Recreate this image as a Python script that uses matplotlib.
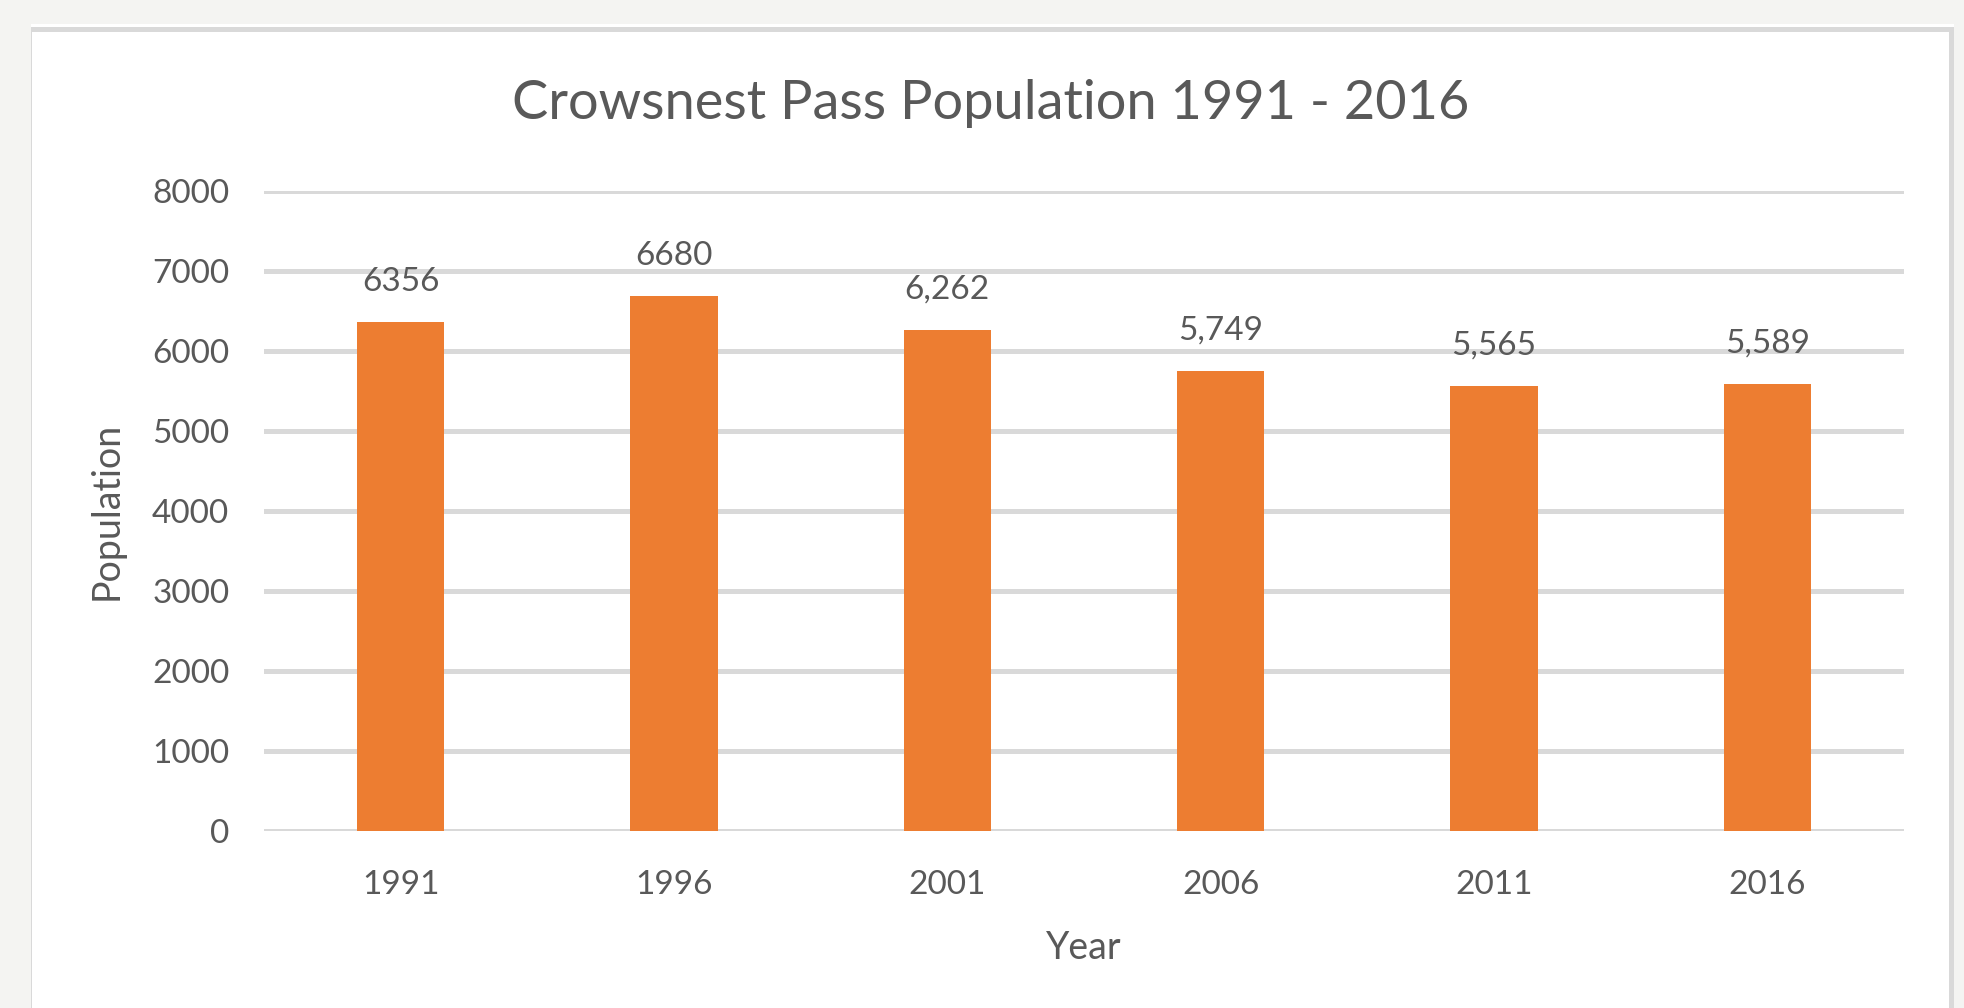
import matplotlib.pyplot as plt
from matplotlib.patches import Rectangle

years = ["1991", "1996", "2001", "2006", "2011", "2016"]
population = [6356, 6680, 6262, 5749, 5565, 5589]
value_labels = ["6356", "6680", "6,262", "5,749", "5,565", "5,589"]
y_ticks = [0, 1000, 2000, 3000, 4000, 5000, 6000, 7000, 8000]

BAR_COLOR = "#ED7D31"
TEXT_COLOR = "#595959"
GRID_COLOR = "#D9D9D9"

plt.rcParams["font.family"] = ["Lato", "DejaVu Sans"]

fig = plt.figure(figsize=(19.65, 10.08), dpi=100)
fig.patch.set_facecolor("#F4F4F2")

# white chart panel with a grey frame on top / right
W, H = 1965, 1008
fig.patches.append(Rectangle((31 / W, 0), (1954 - 31) / W, (1008 - 24) / H,
                             transform=fig.transFigure, facecolor="white",
                             edgecolor="none", zorder=-3))
fig.patches.append(Rectangle((31 / W, 0), (1954 - 31) / W, (1008 - 27) / H,
                             transform=fig.transFigure, facecolor=GRID_COLOR,
                             edgecolor="none", zorder=-2))
fig.patches.append(Rectangle((32 / W, 0), (1949 - 32) / W, (1008 - 32) / H,
                             transform=fig.transFigure, facecolor="white",
                             edgecolor="none", zorder=-1))

ax = fig.add_axes([264 / W, 177 / H, (1904 - 264) / W, (831 - 190.7) / H])
ax.set_facecolor("none")

x = list(range(len(years)))
ax.bar(x, population, width=0.32, color=BAR_COLOR, zorder=3)

for xi, val, lab in zip(x, population, value_labels):
    ax.annotate(lab, (xi, val), xytext=(0, 18), textcoords="offset points",
                ha="center", va="bottom", fontsize=24, color=TEXT_COLOR)

ax.set_xlim(-0.5, len(years) - 0.5)
ax.set_ylim(0, 8000)
ax.set_yticks(y_ticks)
ax.set_xticks(x)
ax.set_xticklabels(years)

ax.yaxis.grid(True, color=GRID_COLOR, linewidth=3.6, zorder=0)
ax.set_axisbelow(True)
for side in ["top", "right", "left", "bottom"]:
    ax.spines[side].set_visible(False)
ax.tick_params(axis="both", length=0, labelsize=24, labelcolor=TEXT_COLOR)
ax.tick_params(axis="y", pad=25)
ax.tick_params(axis="x", pad=28)

ax.set_xlabel("Year", fontsize=27, color=TEXT_COLOR, labelpad=22)
ax.set_ylabel("Population", fontsize=27, color=TEXT_COLOR, labelpad=20)

fig.text(991 / W, 1 - 103 / H, "Crowsnest Pass Population 1991 - 2016",
         ha="center", va="center", fontsize=39, color=TEXT_COLOR)

fig.savefig("out.png", dpi=100, facecolor=fig.get_facecolor())
